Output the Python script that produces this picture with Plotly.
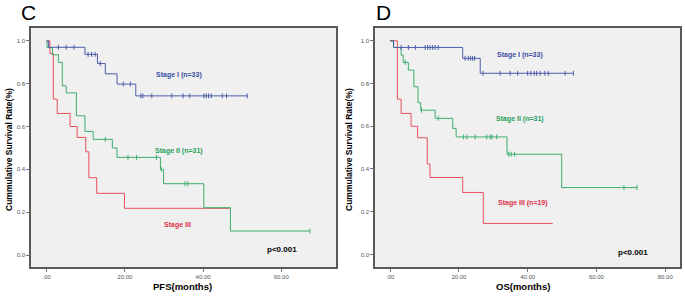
import plotly.graph_objects as go

# ---------------- data ----------------
# Panel C: PFS
pfs_s1_t = [0, 0.5, 9.8, 13, 15, 18, 22.8, 51.3]
pfs_s1_s = [1.0, 0.970, 0.937, 0.894, 0.846, 0.798, 0.743, 0.743]
pfs_s1_c = [3, 5, 7, 10.6, 11.5, 12.4, 13.7, 19.6, 21.4, 24.1, 24.6, 26.9, 32, 34.9,
            36.6, 40.2, 40.8, 41.4, 42.1, 44.9, 46, 51.3]

pfs_s2_t = [0, 0.1, 1.5, 3, 4, 5, 7.6, 9.8, 11.9, 16.8, 18, 29.1, 29.9, 40.2, 47, 67.3]
pfs_s2_s = [1.0, 0.968, 0.935, 0.90, 0.79, 0.757, 0.65, 0.577, 0.54, 0.50, 0.456,
            0.40, 0.333, 0.221, 0.112, 0.112]
pfs_s2_c = [15, 20.8, 23, 28.1, 29.3, 35.4, 36.1, 67.3]

pfs_s3_t = [0, 0.85, 1.7, 2.7, 6, 7.8, 10, 10.8, 12.8, 19.9, 46.8]
pfs_s3_s = [1.0, 0.94, 0.728, 0.661, 0.60, 0.549, 0.482, 0.361, 0.288, 0.218, 0.218]
pfs_s3_c = []

# Panel D: OS
os_s1_t = [0, 1, 21.1, 26.2, 53.3]
os_s1_s = [1.0, 0.969, 0.918, 0.848, 0.848]
os_s1_c = [3.2, 5.3, 7.3, 10.2, 10.9, 11.6, 12.4, 13.1, 14, 21.8, 22.7, 23.4, 24, 24.6,
           27, 32, 34.9, 37.1, 40, 40.9, 41.9, 42.6, 43.6, 45, 46, 50.9, 53.3]

os_s2_t = [0, 1, 3.2, 3.8, 5.3, 6.9, 8.1, 8.9, 13.1, 18.2, 19.2, 34, 49.9, 71.8]
os_s2_s = [1.0, 0.969, 0.933, 0.899, 0.863, 0.785, 0.71, 0.675, 0.637, 0.59, 0.55,
           0.469, 0.313, 0.313]
os_s2_c = [4.4, 9.1, 14, 21.3, 22.3, 24.7, 28.1, 29.1, 29.6, 31, 34.5, 35.2, 36.2, 68, 71.8]

os_s3_t = [0, 2.1, 3.2, 6.1, 8, 10.8, 11.6, 21.1, 27.1, 47.3]
os_s3_s = [1.0, 0.727, 0.66, 0.60, 0.546, 0.423, 0.36, 0.29, 0.145, 0.145]
os_s3_c = []

y_ticks = [0.0, 0.2, 0.4, 0.6, 0.8, 1.0]
y_ticklabels = ["0.0", "0.2", "0.4", "0.6", "0.8", "1.0"]
pfs_xticks = [0, 20, 40, 60]
pfs_xticklabels = [".00", "20.00", "40.00", "60.00"]
os_xticks = [0, 20, 40, 60, 80]
os_xticklabels = [".00", "20.00", "40.00", "60.00", "80.00"]

BLUE = "#4a5ca8"
GREEN = "#3dad6c"
RED = "#e8505c"
BLUE_T = "#3a4fa3"
GREEN_T = "#27a05a"
RED_T = "#e0304a"
FONT = "Arial, Liberation Sans, sans-serif"

W, H = 685, 298


def px(x):
    return x / W


def py(y):
    return 1 - y / H


def surv_at(ts, ss, t):
    val = ss[0]
    for ti, si in zip(ts, ss):
        if ti <= t:
            val = si
    return val


fig = go.Figure()


def add_curve(ts, ss, cs, color, xa, ya):
    fig.add_trace(go.Scatter(x=ts, y=ss, mode="lines", line=dict(color=color, width=1, shape="hv"),
                             xaxis=xa, yaxis=ya, showlegend=False, hoverinfo="skip"))
    if cs:
        fig.add_trace(go.Scatter(x=cs, y=[surv_at(ts, ss, c) for c in cs], mode="markers",
                                 marker=dict(symbol="line-ns", size=3.5,
                                             line=dict(color=color, width=1)),
                                 xaxis=xa, yaxis=ya, showlegend=False, hoverinfo="skip"))


add_curve(pfs_s3_t, pfs_s3_s, pfs_s3_c, RED, "x", "y")
add_curve(pfs_s2_t, pfs_s2_s, pfs_s2_c, GREEN, "x", "y")
add_curve(pfs_s1_t, pfs_s1_s, pfs_s1_c, BLUE, "x", "y")
add_curve(os_s3_t, os_s3_s, os_s3_c, RED, "x2", "y2")
add_curve(os_s2_t, os_s2_s, os_s2_c, GREEN, "x2", "y2")
add_curve(os_s1_t, os_s1_s, os_s1_c, BLUE, "x2", "y2")

axis_common = dict(showgrid=False, zeroline=False, showline=True, mirror=True,
                   linecolor="#5a5a5a", linewidth=1.5, ticks="outside", ticklen=3,
                   tickcolor="#777", tickwidth=1, automargin=False,
                   tickfont=dict(family=FONT, size=6, color="#555"))

fig.update_layout(
    width=W, height=H, margin=dict(l=0, r=0, t=0, b=0),
    paper_bgcolor="white", plot_bgcolor="#f0f0f0",
    xaxis=dict(domain=[px(31), px(336)], range=[-4.0, 74.0], anchor="y",
               tickvals=pfs_xticks, ticktext=pfs_xticklabels, **axis_common),
    yaxis=dict(domain=[py(267), py(28)], range=[-0.056, 1.06], anchor="x",
               tickvals=y_ticks, ticktext=y_ticklabels, **axis_common),
    xaxis2=dict(domain=[px(375), px(680)], range=[-4.4, 84.3], anchor="y2",
                tickvals=os_xticks, ticktext=os_xticklabels, **axis_common),
    yaxis2=dict(domain=[py(267), py(28)], range=[-0.059, 1.06], anchor="x2",
                tickvals=y_ticks, ticktext=y_ticklabels, **axis_common),
)


def ann(text, x, y, size, color="black", bold=True, angle=0):
    t = f"<b>{text}</b>" if bold else text
    fig.add_annotation(text=t, x=px(x), y=py(y), xref="paper", yref="paper",
                       showarrow=False, xanchor="center", yanchor="middle", textangle=angle,
                       font=dict(family=FONT, size=size, color=color))


# panel letters
ann("C", 28, 13, 21, bold=False)
ann("D", 383, 13, 21, bold=False)
# axis titles
ann("Cummulative Survival Rate(%)", 9, 150, 8.5, angle=-90)
ann("Cummulative Survival Rate(%)", 349, 150, 8.5, angle=-90)
ann("PFS(months)", 183, 286, 9.5)
ann("OS(months)", 523, 286, 9.5)
# curve labels
ann("Stage I (n=33)", 179, 75, 7, BLUE_T)
ann("Stage II (n=31)", 179, 151, 7, GREEN_T)
ann("Stage III", 177, 225, 7, RED_T)
ann("p<0.001", 282, 249, 8)
ann("Stage I (n=33)", 520, 55, 7, BLUE_T)
ann("Stage II (n=31)", 520, 119, 7, GREEN_T)
ann("Stage III (n=19)", 523, 203, 7, RED_T)
ann("p<0.001", 633, 252, 8)

fig.write_html("out.html", config={"displayModeBar": False},
               post_script="document.body.style.margin='0';")
